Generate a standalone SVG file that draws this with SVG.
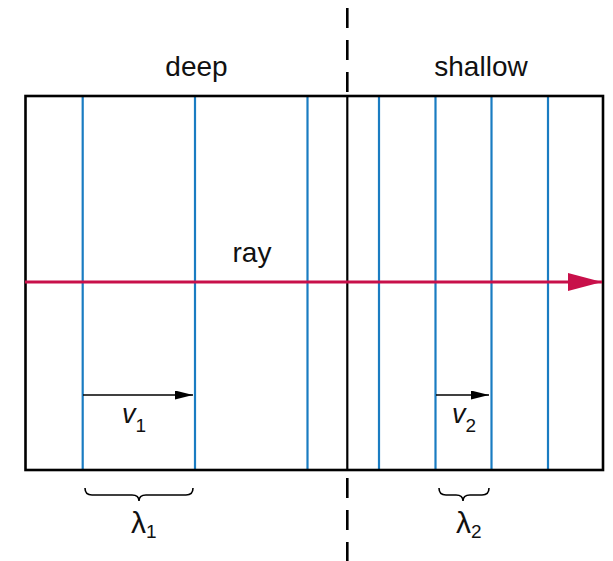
<svg xmlns="http://www.w3.org/2000/svg" width="613" height="561" viewBox="0 0 613 561">
<style>
text{font-family:"Liberation Sans",Arial,sans-serif;fill:#111}
.lbl{font-size:28px;text-anchor:middle}
.wave{stroke:#1a7cc2;stroke-width:2.2;fill:none}
.blk{stroke:#000;fill:none}
.brace{stroke:#000;stroke-width:1.6;fill:none}
.it{font-style:italic;font-size:27px}
.sub{font-size:19px}
</style>
<defs>
<marker id="ah" markerWidth="18" markerHeight="9" refX="18" refY="4.5" orient="auto" markerUnits="userSpaceOnUse"><path d="M0,0 L18,4.5 L0,9 z" fill="#000"/></marker>
<marker id="rh" markerWidth="34" markerHeight="18" refX="34" refY="9" orient="auto" markerUnits="userSpaceOnUse"><path d="M0,0 L34,9 L0,18 z" fill="#c8104a"/></marker>
</defs>
<g id="wavefronts">
<line class="wave" x1="82.7" y1="96" x2="82.7" y2="470"/>
<line class="wave" x1="195" y1="96" x2="195" y2="470"/>
<line class="wave" x1="307.5" y1="96" x2="307.5" y2="470"/>
<line class="wave" x1="379" y1="96" x2="379" y2="470"/>
<line class="wave" x1="435.5" y1="96" x2="435.5" y2="470"/>
<line class="wave" x1="491.5" y1="96" x2="491.5" y2="470"/>
<line class="wave" x1="548" y1="96" x2="548" y2="470"/>
</g>
<g id="boundary">
<line class="blk" x1="347.3" y1="8" x2="347.3" y2="96" stroke-width="2.6" stroke-dasharray="20 12"/>
<line class="blk" x1="347.3" y1="96" x2="347.3" y2="470" stroke-width="2.2"/>
<line class="blk" x1="347.3" y1="478" x2="347.3" y2="561" stroke-width="2.6" stroke-dasharray="20 12"/>
</g>
<g id="frame">
<rect class="blk" x="25.5" y="96" width="577.5" height="374" stroke-width="2.6"/>
</g>
<g id="connectors">
<line x1="25" y1="282" x2="602" y2="282" stroke="#c8104a" stroke-width="3" marker-end="url(#rh)"/>
<line x1="83" y1="395" x2="193" y2="395" stroke="#000" stroke-width="1.6" marker-end="url(#ah)"/>
<line x1="436" y1="395" x2="489" y2="395" stroke="#000" stroke-width="1.6" marker-end="url(#ah)"/>
<path class="brace" d="M85,488 q0,7 7,7 L132,495 q7,0 7,6 q0,-6 7,-6 L186,495 q7,0 7,-7"/>
<path class="brace" d="M439,488 q0,7 7,7 L456,495 q7,0 7,6 q0,-6 7,-6 L482,495 q7,0 7,-7"/>
</g>
<g id="labels">
<text class="lbl" x="196.5" y="76">deep</text>
<text class="lbl" x="481" y="76">shallow</text>
<text class="lbl" x="252" y="262">ray</text>
<text x="122" y="423" class="it">v<tspan class="sub" font-style="normal" dy="9">1</tspan></text>
<text x="452" y="423" class="it">v<tspan class="sub" font-style="normal" dy="9">2</tspan></text>
<text x="131" y="533" font-size="30">λ<tspan class="sub" dy="5">1</tspan></text>
<text x="456" y="533" font-size="30">λ<tspan class="sub" dy="5">2</tspan></text>
</g>
</svg>
